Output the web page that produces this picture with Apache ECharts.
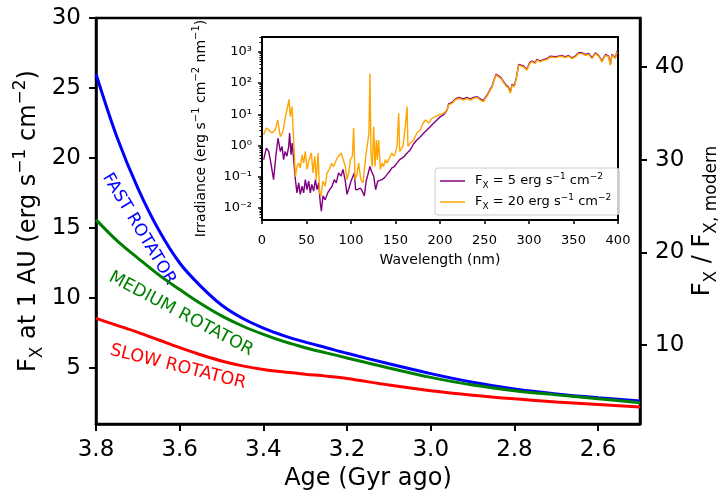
<!DOCTYPE html>
<html><head><meta charset="utf-8">
<script src="https://cdn.jsdelivr.net/npm/echarts@6/dist/echarts.min.js"></script>
<style>html,body{margin:0;padding:0;background:#fff}#c{width:719px;height:495px}</style>
</head><body><div id="c"></div>
<script>
// ---------- main panel data ----------
const ages = [3.8, 3.75, 3.7, 3.65, 3.6, 3.55, 3.5, 3.45, 3.4, 3.35, 3.3, 3.25, 3.2, 3.1, 3.0, 2.9, 2.8, 2.7, 2.6, 2.5];
const fastRotator = [26.0, 21.5, 17.85, 14.85, 12.5, 10.85, 9.5, 8.55, 7.85, 7.3, 6.85, 6.45, 6.05, 5.3, 4.6, 3.98, 3.5, 3.15, 2.88, 2.65];
const mediumRotator = [15.6, 14.1, 12.85, 11.65, 10.6, 9.6, 8.72, 8.0, 7.4, 6.88, 6.45, 6.08, 5.72, 5.0, 4.33, 3.78, 3.38, 3.08, 2.8, 2.52];
const slowRotator = [8.55, 8.05, 7.55, 7.0, 6.45, 5.95, 5.5, 5.15, 4.9, 4.72, 4.56, 4.42, 4.25, 3.78, 3.38, 3.06, 2.8, 2.58, 2.4, 2.22];
const ageTicks = [3.8, 3.6, 3.4, 3.2, 3.0, 2.8, 2.6];
const leftTicks = [5, 10, 15, 20, 25, 30];
const rightTicks = [10, 20, 30, 40];
const FX_MODERN = 0.663;
const rotatorLabels = ['FAST ROTATOR', 'MEDIUM ROTATOR', 'SLOW ROTATOR'];

// ---------- inset spectrum data ----------
const wl5 = [1.9,4.9,7.5,10,13,15.7,18,20.6,22.5,24.3,26,28,30,31,32.6,34,35.6,37.5,39.3,41.2,43,45,46.8,48.7,50.6,52.4,54.3,56,58,60,61.8,63.7,65.5,66.7,68.5,71,73.8,76,78.7,81.3,83.5,86,88.8,91,93.6,95.5,97.8,100,102.2,103.7,105.2,107.5,110.5,112.7,115,117,119.5,121.3,123,125.5,127.7,130,132,134.8,137.5,140.4,143.4,146,148.7,151.7,154.7,157.3,160,163,166.7,170.4,174,178,181.8,185.5,189,193,196.6,200.4,204,208,209.7,213.5,217,221,222.8,226.6,230,234,237.8,241.6,245.3,249,251,253.6,256.5,258.4,260.3,263,266,268.5,270.8,273.4,275.3,277,279,281,283.5,285.8,288.4,290,294,297.8,300.7,303.4,307,309,312.7,316.5,320,324,325.8,329.6,333.3,337,340.8,344.6,348.3,352,355.8,359.6,363.3,367,370.8,374.5,378.3,382,385.8,389.5,391.4,393.3,395.2,397,399];
const irr5 = [0.35,0.82,0.64,0.27,0.08,0.5,1.7,0.64,0.93,0.35,0.64,0.45,0.93,2.5,0.5,1.2,0.35,0.08,0.03,0.063,0.027,0.049,0.03,0.08,0.038,0.071,0.03,0.056,0.034,0.08,0.038,0.063,0.014,0.0078,0.024,0.018,0.03,0.038,0.049,0.08,0.063,0.131,0.103,0.17,0.071,0.027,0.043,0.071,0.08,0.131,0.038,0.038,0.043,0.034,0.024,0.071,0.131,0.21,0.148,0.103,0.038,0.071,0.063,0.08,0.091,0.116,0.148,0.19,0.21,0.27,0.35,0.39,0.45,0.57,0.73,1.13,1.5,1.9,2.5,3.2,4.0,5.2,6.6,8.4,9.5,13.7,21.5,24,30.5,35,39,31,35,31,35,37,31,27.5,35,44,64,78,118,192,170,150,118,92,104,73,51,92,82,150,400,455,355,280,455,510,455,575,510,575,605,735,735,700,735,770,700,770,650,735,940,940,830,890,650,940,770,510,830,735,400,830,940,650,1060];
const wl20 = [1.9,4.9,7.5,11,15,17.6,20.6,23.6,26,28,30.3,31.8,33.7,35.6,37.5,39.3,41.2,43,45,46.8,48.7,50.6,53,55.4,57.3,59.2,61,63,64.8,66.3,68.5,71,73,75.7,78,80.5,83.5,86,89,91,93.6,95.5,97.4,99.3,101.5,103,104.5,106.7,108.6,111,113.5,115.7,117,118.7,120.2,121.3,122.5,124,125.5,127,128.5,129.6,131,133,134.8,136.7,138.6,140.4,142.3,144.2,146,148,149.8,151.7,153.6,154.7,156.2,158.4,160,161,163,164,166.7,170.4,174,178,181,183.5,187.3,191,194.8,198.5,204,208,209.7,213.5,217,221,222.8,226.6,230,234,237.8,241.6,245.3,249,251,253.6,256.5,258.4,260.3,263,266,268.5,270.8,273.4,275.3,277,279,281,283.5,285.8,288.4,290,294,297.8,300.7,303.4,307,309,312.7,316.5,320,324,325.8,329.6,333.3,337,340.8,344.6,348.3,352,355.8,359.6,363.3,367,370.8,374.5,378.3,382,385.8,389.5,391.4,393.3,395.2,397,399];
const irr20 = [2.2,3.6,3.2,2.5,3.2,6.6,1.9,2.8,7.5,13.7,30,8.4,17.6,1.5,0.1,0.21,0.27,0.19,0.5,0.27,0.64,0.17,0.35,0.57,0.13,0.45,0.08,0.57,0.03,0.024,0.071,0.049,0.13,0.17,0.27,0.21,0.35,0.45,0.57,0.64,0.21,0.08,0.13,0.35,0.45,3.6,0.08,0.116,0.27,0.08,0.063,0.056,0.57,1.2,2.5,204,0.45,0.21,4.0,0.21,1.5,0.35,1.5,0.17,0.27,0.21,0.35,0.27,0.35,0.45,0.57,0.45,0.57,0.93,10.8,0.64,0.73,0.93,0.82,4.0,17.6,0.93,1.2,1.5,2.5,3.2,5.2,6.6,5.2,7.5,8.4,9.5,10.8,13.7,19.9,22.4,28.7,32.4,36.6,28.7,32.4,28.7,32.4,34.9,28.7,25.4,32.4,41.4,59.8,72.8,110,180,159,141,110,86,98,68,47,86,76,141,375,425,332,260,425,480,425,542,480,542,569,692,692,659,692,727,659,727,612,692,885,885,783,840,612,885,727,480,783,692,375,783,885,612,1000];
const irrTicks = [0.01, 0.1, 1, 10, 100, 1000];
const irrMinorTicks = [0.005,0.006,0.007,0.008,0.009,
  0.02,0.03,0.04,0.05,0.06,0.07,0.08,0.09,
  0.2,0.3,0.4,0.5,0.6,0.7,0.8,0.9,
  2,3,4,5,6,7,8,9, 20,30,40,50,60,70,80,90,
  200,300,400,500,600,700,800,900, 2000,3000];

const FONT = 'DejaVu Sans';
const supMap = {'-':'\u207B','0':'\u2070','1':'\u00B9','2':'\u00B2','3':'\u00B3'};
function powLabel(v){
  const e = Math.round(Math.log10(v));
  return '10' + String(e).split('').map(c => supMap[c]).join('');
}
function richSet(fs){
  const s = Math.round(fs*0.7);
  return {
    n: {fontSize: fs, fontFamily: FONT, color: '#000', lineHeight: Math.round(fs*1.4)},
    sub: {fontSize: s, fontFamily: FONT, color: '#000', lineHeight: s, verticalAlign: 'bottom'},
    sup: {fontSize: s, fontFamily: FONT, color: '#000', lineHeight: s, verticalAlign: 'top'}
  };
}

const chart = echarts.init(document.getElementById('c'), null, {renderer: 'canvas'});
const pairs = (xs, ys) => xs.map((x, i) => [x, ys[i]]);

const legendText = {
  'Fx5': '{n|F}{sub|X}{n| = 5 erg s}{sup|\u22121}{n| cm}{sup|\u22122}',
  'Fx20': '{n|F}{sub|X}{n| = 20 erg s}{sup|\u22121}{n| cm}{sup|\u22122}'
};

const option = {
  animation: false,
  backgroundColor: '#fff',
  textStyle: {fontFamily: FONT},
  grid: [
    {left: 96, right: 79, top: 18, bottom: 71, outerBoundsMode: 'none', containLabel: false, show: true, borderColor: '#000', borderWidth: 2.5, backgroundColor: 'transparent'},
    {left: 262, right: 101, top: 37, bottom: 275, outerBoundsMode: 'none', containLabel: false, show: true, borderColor: '#000', borderWidth: 2, backgroundColor: '#fff', z: 5}
  ],
  xAxis: [
    {
      type: 'value', gridIndex: 0, min: 2.5, max: 3.8, inverse: true,
      name: 'Age (Gyr ago)', nameLocation: 'middle', nameGap: 43, nameMoveOverlap: false,
      nameTextStyle: {fontSize: 24, color: '#000', fontFamily: FONT},
      axisLine: {show: true, onZero: false, lineStyle: {color: '#000', width: 2.5}},
      axisTick: {show: true, length: 7, customValues: ageTicks, lineStyle: {color: '#000', width: 2}},
      axisLabel: {fontSize: 23, color: '#000', margin: 15, customValues: ageTicks, formatter: v => v.toFixed(1)},
      splitLine: {show: false}
    },
    {
      type: 'value', gridIndex: 1, min: 0, max: 400, interval: 50,
      name: 'Wavelength (nm)', nameLocation: 'middle', nameGap: 33, nameMoveOverlap: false,
      nameTextStyle: {fontSize: 14, color: '#000', fontFamily: FONT},
      axisLine: {show: true, onZero: false, lineStyle: {color: '#000', width: 2}},
      axisTick: {show: true, length: 4, lineStyle: {color: '#000', width: 1.5}},
      axisLabel: {fontSize: 13, color: '#000', margin: 14},
      splitLine: {show: false}, z: 6
    }
  ],
  yAxis: [
    {
      type: 'value', gridIndex: 0, min: 1, max: 30, position: 'left',
      name: '{n|F}{sub|X}{n| at 1 AU (erg s}{sup|\u22121}{n| cm}{sup|\u22122}{n|)}',
      nameLocation: 'middle', nameGap: 50, nameRotate: 90, nameMoveOverlap: false,
      nameTextStyle: {rich: richSet(24)},
      axisLine: {show: true, onZero: false, lineStyle: {color: '#000', width: 2.5}},
      axisTick: {show: true, length: 7, customValues: leftTicks, lineStyle: {color: '#000', width: 2}},
      axisLabel: {fontSize: 23, color: '#000', margin: 15, customValues: leftTicks},
      splitLine: {show: false}
    },
    {
      type: 'value', gridIndex: 0, min: 1 / FX_MODERN, max: 30 / FX_MODERN, position: 'right',
      name: '{n|F}{sub|X}{n| / F}{sub|X, modern}',
      nameLocation: 'middle', nameGap: 46, nameRotate: 90, nameMoveOverlap: false,
      nameTextStyle: {rich: richSet(24)},
      axisLine: {show: true, onZero: false, lineStyle: {color: '#000', width: 2.5}},
      axisTick: {show: true, length: 7, customValues: rightTicks, lineStyle: {color: '#000', width: 2}},
      axisLabel: {fontSize: 23, color: '#000', margin: 15, customValues: rightTicks},
      splitLine: {show: false}
    },
    {
      type: 'log', logBase: 10, gridIndex: 1, min: 0.00404, max: 3020,
      name: '{n|Irradiance (erg s}{sup|\u22121}{n| cm}{sup|\u22122}{n| nm}{sup|\u22121}{n|)}',
      nameLocation: 'middle', nameGap: 51, nameRotate: 90, nameMoveOverlap: false,
      nameTextStyle: {rich: richSet(14)},
      axisLine: {show: true, onZero: false, lineStyle: {color: '#000', width: 2}},
      axisTick: {show: true, length: 4, customValues: irrTicks, lineStyle: {color: '#000', width: 1.5}},
      axisLabel: {fontSize: 13, color: '#000', margin: 10, customValues: irrTicks, formatter: powLabel},
      splitLine: {show: false}, z: 6
    },
    {
      type: 'log', logBase: 10, gridIndex: 1, min: 0.00404, max: 3020, position: 'left',
      axisLine: {show: false},
      axisTick: {show: true, length: 2.5, customValues: irrMinorTicks, lineStyle: {color: '#000', width: 1}},
      axisLabel: {show: false},
      splitLine: {show: false}, z: 6
    }
  ],
  legend: {
    show: true, orient: 'vertical', left: 435, top: 168,
    data: ['Fx5', 'Fx20'],
    icon: 'rect',
    itemWidth: 25, itemHeight: 1.5, itemGap: 3,
    padding: [4, 8, 4, 5],
    backgroundColor: 'rgba(255,255,255,0.8)', borderColor: '#ccc', borderWidth: 1, borderRadius: 3,
    formatter: name => legendText[name],
    textStyle: {padding: [0, 0, 0, 5], rich: richSet(13)},
    z: 10
  },
  series: [
    {name: 'fast', type: 'line', xAxisIndex: 0, yAxisIndex: 0, data: pairs(ages, fastRotator), smooth: 0.35, symbol: 'none', lineStyle: {color: '#0000ff', width: 3}, itemStyle: {color: '#0000ff'}},
    {name: 'medium', type: 'line', xAxisIndex: 0, yAxisIndex: 0, data: pairs(ages, mediumRotator), smooth: 0.35, symbol: 'none', lineStyle: {color: '#008000', width: 3}, itemStyle: {color: '#008000'}},
    {name: 'slow', type: 'line', xAxisIndex: 0, yAxisIndex: 0, data: pairs(ages, slowRotator), smooth: 0.35, symbol: 'none', lineStyle: {color: '#ff0000', width: 3}, itemStyle: {color: '#ff0000'}},
    {name: 'Fx5', type: 'line', xAxisIndex: 1, yAxisIndex: 2, data: pairs(wl5, irr5), symbol: 'none', lineStyle: {color: '#800080', width: 1.4}, itemStyle: {color: '#800080'}, z: 7},
    {name: 'Fx20', type: 'line', xAxisIndex: 1, yAxisIndex: 2, data: pairs(wl20, irr20), symbol: 'none', lineStyle: {color: '#ffa500', width: 1.4}, itemStyle: {color: '#ffa500'}, z: 8}
  ],
  graphic: [
    {type: 'text', x: 139, y: 229, rotation: -59 * Math.PI / 180, style: {text: rotatorLabels[0], fill: '#0000ff', font: '17px "DejaVu Sans"', align: 'center', verticalAlign: 'middle'}},
    {type: 'text', x: 181, y: 314, rotation: -28 * Math.PI / 180, style: {text: rotatorLabels[1], fill: '#008000', font: '17.5px "DejaVu Sans"', align: 'center', verticalAlign: 'middle'}},
    {type: 'text', x: 178, y: 367, rotation: -14 * Math.PI / 180, style: {text: rotatorLabels[2], fill: '#ff0000', font: '17.5px "DejaVu Sans"', align: 'center', verticalAlign: 'middle'}}
  ]
};
chart.setOption(option);
</script>
</body></html>
